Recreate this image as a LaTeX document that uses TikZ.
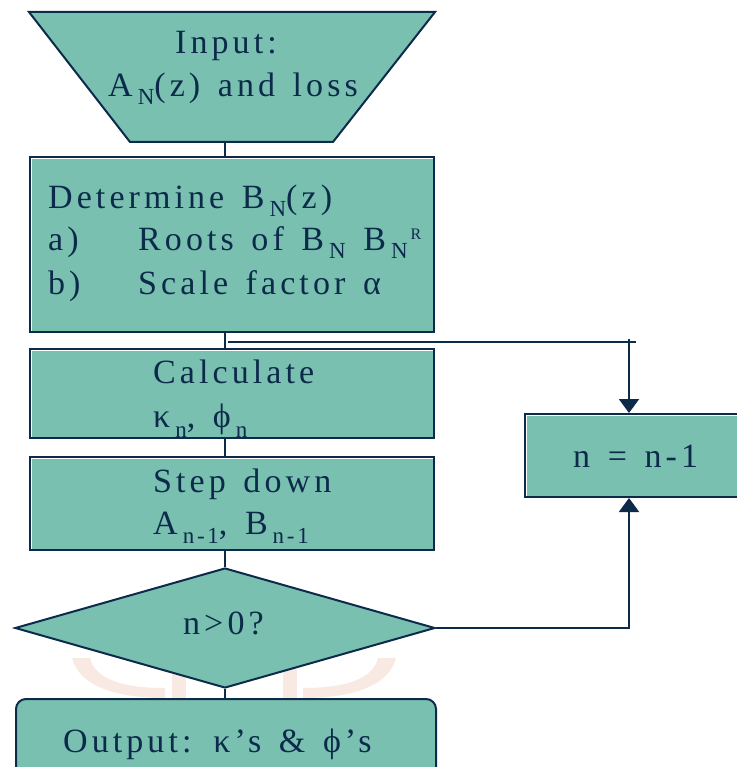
\documentclass[tikz,border=0pt]{standalone}
\usepackage{fontspec}
\setmainfont{Liberation Serif}[LetterSpace=12,WordSpace=1.4]
\usetikzlibrary{arrows.meta,shapes.geometric}
\definecolor{tealfill}{HTML}{7AC0B1}
\definecolor{navy}{HTML}{0C2A4A}
\definecolor{wmark}{HTML}{F8E9E2}
\newcommand\lowsub[2][8pt]{\kern5pt\raisebox{-#1}{\fontsize{23}{23}\selectfont #2}}
\newcommand\hisup[1]{\kern3pt\raisebox{11pt}{\fontsize{16}{16}\selectfont #1}}
\newcommand\hilite[1]{\draw[hl] ([xshift=2.5pt,yshift=2.5pt]#1.south west) -- ([xshift=2.5pt,yshift=-2.5pt]#1.north west) -- ([xshift=-2.5pt,yshift=-2.5pt]#1.north east);}
\begin{document}
\begin{tikzpicture}[x=1pt,y=-1pt,
  flowbox/.style={draw=navy,fill=tealfill,line width=2pt,rectangle,inner sep=0pt,anchor=north west},
  txt/.style={anchor=base west,inner sep=0pt,text=navy,font=\fontsize{34}{40}\selectfont},
  conn/.style={draw=navy,line width=2pt},
  arr/.style={conn,-{Triangle[width=20pt,length=14pt]}},
  hl/.style={draw=white,line width=1.2pt}]
\useasboundingbox[fill=white] (0,0) rectangle (736,767);
% faint watermark
\fill[wmark] (72,658) .. controls (80,688) and (120,698) .. (165,698) -- (165,688) .. controls (125,688) and (95,680) .. (90,658) -- cycle;
\fill[wmark] (396,658) .. controls (388,688) and (348,698) .. (303,698) -- (303,688) .. controls (343,688) and (373,680) .. (378,658) -- cycle;
\fill[wmark] (172,664) rectangle (186,698);
\fill[wmark] (283,664) rectangle (297,698);
% shapes
\draw[draw=navy,fill=tealfill,line width=2pt,line join=miter]
  (29,12) coordinate (inpNW) -- (435,12) coordinate (inpNE) -- (333,142) coordinate (inpSE) -- (130,142) coordinate (inpSW) -- cycle;
\coordinate (inpS) at (225,142);
\node[flowbox,minimum width=404pt,minimum height=175pt] (det) at (29,156) {};
\node[flowbox,minimum width=404pt,minimum height=89pt] (calc) at (29,348) {};
\node[flowbox,minimum width=404pt,minimum height=93pt] (step) at (29,456) {};
\node[diamond,draw=navy,fill=tealfill,line width=2pt,minimum width=420pt,minimum height=120pt,inner sep=0pt] (test) at (225,628) {};
\node[flowbox,rounded corners=10pt,minimum width=420pt,minimum height=90pt] (out) at (15,698) {};
\node[flowbox,minimum width=240pt,minimum height=83pt] (dec) at (524,413) {};
\hilite{det}\hilite{calc}\hilite{step}\hilite{dec}
% connectors
\coordinate (spine) at (225,0);
\coordinate (jl) at (228,342);
\coordinate (jr) at (636,342);
\coordinate (ltop) at (629,339);
\draw[conn] (inpS) -- (det.north -| spine);
\draw[conn] (det.south -| spine) -- (calc.north -| spine);
\draw[conn] (calc.south -| spine) -- (step.north -| spine);
\draw[conn] (step.south -| spine) -- (test.north);
\draw[conn] (test.south) -- (out.north -| spine);
\draw[conn] (jl) -- (jr);
\draw[arr] (ltop) -- (ltop |- dec.north);
\draw[arr] (test.east) -| (ltop |- dec.south);
% texts
\node[txt] (t1) at (175,54) {Input:};
\node[txt] (t2) at (108,97) {A\lowsub{N}(z) and loss};
\node[txt] (t3) at (48,208) {Determine B\lowsub{N}(z)};
\node[txt] (t4) at (48,250) {a)};
\node[txt] (t5) at (138,250) {Roots of B\lowsub{N} B\lowsub{N}\hisup{R}};
\node[txt] (t6) at (48,294) {b)};
\node[txt] (t7) at (138,294) {Scale factor α};
\node[txt] (t8) at (153,383) {Calculate};
\node[txt] (t9) at (153,427) {κ\lowsub[10pt]{n}, ϕ\lowsub[10pt]{n}};
\node[txt] (t10) at (153,492) {Step down};
\node[txt] (t11) at (153,534) {A\lowsub[9pt]{n-1}, B\lowsub[9pt]{n-1}};
\node[txt] (t12) at (573,467) {n = n-1};
\node[txt] (t13) at (183,634) {n>0?};
\node[txt] (t14) at (63,752) {Output: κ’s \& ϕ’s};
\end{tikzpicture}
\end{document}
